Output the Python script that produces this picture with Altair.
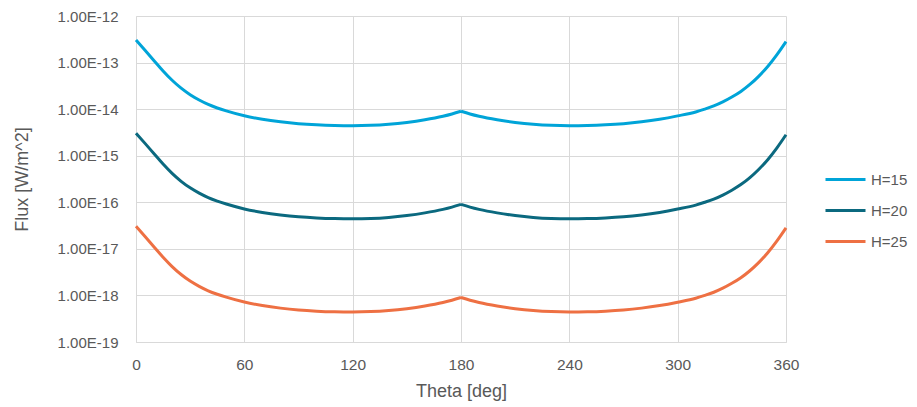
import altair as alt
import pandas as pd

theta = [0, 5, 10, 15, 20, 25, 30, 35, 40, 45, 50, 60, 70, 80, 90, 100, 110, 120,
         130, 140, 150, 160, 170, 175, 180, 185, 190, 200, 210, 220, 230, 240, 250,
         260, 270, 280, 290, 300, 310, 315, 320, 325, 330, 335, 340, 345, 350, 355, 360]

h15 = [3.05e-13, 1.84e-13, 1.10e-13, 6.61e-14, 4.17e-14, 2.82e-14, 2.04e-14, 1.57e-14,
       1.26e-14, 1.06e-14, 9.17e-15, 7.20e-15, 6.06e-15, 5.34e-15, 4.87e-15, 4.60e-15,
       4.46e-15, 4.42e-15, 4.49e-15, 4.73e-15, 5.19e-15, 5.92e-15, 7.05e-15, 7.89e-15,
       9.02e-15,
       7.89e-15, 7.05e-15, 5.92e-15, 5.19e-15, 4.73e-15, 4.49e-15, 4.42e-15, 4.46e-15,
       4.60e-15, 4.87e-15, 5.34e-15, 6.06e-15, 7.16e-15, 8.71e-15, 1.0e-14, 1.17e-14,
       1.43e-14, 1.82e-14, 2.40e-14, 3.39e-14, 5.13e-14, 8.32e-14, 1.48e-13, 2.82e-13]

h20 = [3.05e-15, 1.84e-15, 1.10e-15, 6.61e-16, 4.17e-16, 2.82e-16, 2.04e-16, 1.57e-16,
       1.26e-16, 1.06e-16, 9.17e-17, 7.20e-17, 6.06e-17, 5.34e-17, 4.87e-17, 4.60e-17,
       4.46e-17, 4.42e-17, 4.49e-17, 4.73e-17, 5.19e-17, 5.92e-17, 7.05e-17, 7.89e-17,
       9.02e-17,
       7.89e-17, 7.05e-17, 5.92e-17, 5.19e-17, 4.73e-17, 4.49e-17, 4.42e-17, 4.46e-17,
       4.60e-17, 4.87e-17, 5.34e-17, 6.06e-17, 7.16e-17, 8.71e-17, 1.0e-16, 1.17e-16,
       1.43e-16, 1.82e-16, 2.40e-16, 3.39e-16, 5.13e-16, 8.32e-16, 1.48e-15, 2.82e-15]

h25 = [3.05e-17, 1.84e-17, 1.10e-17, 6.61e-18, 4.17e-18, 2.82e-18, 2.04e-18, 1.57e-18,
       1.26e-18, 1.06e-18, 9.17e-19, 7.20e-19, 6.06e-19, 5.34e-19, 4.87e-19, 4.60e-19,
       4.46e-19, 4.42e-19, 4.49e-19, 4.73e-19, 5.19e-19, 5.92e-19, 7.05e-19, 7.89e-19,
       9.02e-19,
       7.89e-19, 7.05e-19, 5.92e-19, 5.19e-19, 4.73e-19, 4.49e-19, 4.42e-19, 4.46e-19,
       4.60e-19, 4.87e-19, 5.34e-19, 6.06e-19, 7.16e-19, 8.71e-19, 1.0e-18, 1.17e-18,
       1.43e-18, 1.82e-18, 2.40e-18, 3.39e-18, 5.13e-18, 8.32e-18, 1.48e-17, 2.82e-17]

series = ["H=15", "H=20", "H=25"]
colors = ["#00A4D8", "#0B697F", "#EE7043"]
x_ticks = [0, 60, 120, 180, 240, 300, 360]
y_ticks = [1e-19, 1e-18, 1e-17, 1e-16, 1e-15, 1e-14, 1e-13, 1e-12]

rows = []
for name, vals in zip(series, [h15, h20, h25]):
    for t, v in zip(theta, vals):
        # each curve is drawn as two branches that meet at the cusp (theta = 180)
        if t <= 180:
            rows.append({"theta": t, "flux": v, "series": name, "branch": "a"})
        if t >= 180:
            rows.append({"theta": t, "flux": v, "series": name, "branch": "b"})
df = pd.DataFrame(rows)

FONT = "Liberation Sans"
TXT = "#595959"
GRID = "#D9D9D9"

chart = alt.Chart(df).mark_line(strokeWidth=3, interpolate="monotone").encode(
    x=alt.X("theta:Q",
            scale=alt.Scale(domain=[0, 360], nice=False),
            axis=alt.Axis(values=x_ticks, title="Theta [deg]", grid=True,
                          gridColor=GRID, domainColor=GRID, ticks=False, tickSize=0,
                          labelFlush=False, labelOverlap=False,
                          labelPadding=15, labelFontSize=15.5, labelColor=TXT,
                          labelFont=FONT, titleFont=FONT, titleFontSize=18,
                          titleFontWeight="normal", titleColor=TXT, titlePadding=10)),
    y=alt.Y("flux:Q",
            scale=alt.Scale(type="log", domain=[1e-19, 1e-12], nice=False),
            axis=alt.Axis(values=y_ticks, title="Flux [W/m^2]", grid=True,
                          gridColor=GRID, domainColor=GRID, ticks=False, tickSize=0,
                          labelFlush=False, labelOverlap=False,
                          labelPadding=18, labelFontSize=15, labelColor=TXT,
                          labelFont=FONT, titleFont=FONT, titleFontSize=18,
                          titleFontWeight="normal", titleColor=TXT, titlePadding=26,
                          labelExpr="'1.00E-' + toString(-round(log(datum.value)/LN10))")),
    color=alt.Color("series:N",
                    scale=alt.Scale(domain=series, range=colors),
                    legend=alt.Legend(title=None, orient="none", legendX=688, legendY=142,
                                      symbolType="stroke", symbolSize=1600,
                                      symbolStrokeWidth=3, labelFontSize=15,
                                      labelFont=FONT, labelColor=TXT, labelOffset=4,
                                      rowPadding=1)),
    detail="branch:N",
).properties(
    width=650, height=326,
    autosize=alt.AutoSizeParams(type="none"),
    padding={"left": 128, "top": 8, "right": 123, "bottom": 60},
).configure_view(stroke=None)

chart.save("out.html", embed_options={"renderer": "svg", "actions": False})
